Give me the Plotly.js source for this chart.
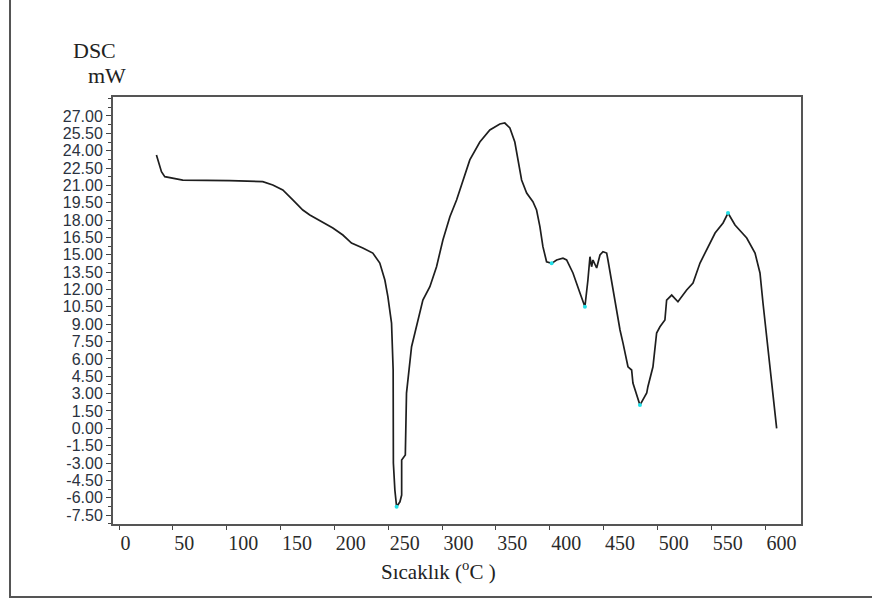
<!DOCTYPE html>
<html>
<head>
<meta charset="utf-8">
<script src="https://cdn.plot.ly/plotly-3.0.1.min.js"></script>
<style>html,body{margin:0;padding:0;background:#fff;}#chart{width:872px;height:602px;}</style>
</head>
<body>
<div id="chart"></div>
<script>
// DSC curve: temperature (°C) and heat flow (mW)
const temperature = [34.75, 36.2, 39.4, 42.5, 49.9, 59.2, 102.9, 133.5, 142.8, 152.1, 161.4, 170.7, 177.2, 188.1, 198.6, 207.9, 215.9, 226.4, 235.7, 242.2, 246.9, 249.7, 253.1, 254.6, 254.6, 254.8, 256.2, 257.8, 260.9, 262.5, 262.5, 265.9, 267.0, 268.2, 271.7, 274.8, 282.2, 288.7, 294.9, 300.8, 307.3, 313.5, 319.6, 325.8, 335.1, 344.4, 353.7, 358.3, 363.0, 367.6, 373.9, 378.6, 384.4, 387.8, 390.9, 393.7, 397.1, 401.8, 406.4, 412.3, 415.7, 421.6, 428.1, 432.7, 435.5, 437.4, 438.9, 440.2, 443.6, 446.7, 449.5, 452.9, 454.1, 458.8, 463.4, 465.3, 468.1, 471.5, 472.7, 476.1, 477.3, 483.8, 490.1, 491.2, 495.9, 499.3, 502.4, 507.0, 508.6, 513.3, 519.1, 527.2, 533.1, 539.6, 545.8, 553.6, 561.0, 565.6, 572.1, 583.0, 590.7, 595.3, 598.1, 601.6, 606.2, 610.8];
const dscMW = [23.63, 23.2, 22.18, 21.75, 21.61, 21.46, 21.41, 21.32, 21.03, 20.6, 19.74, 18.87, 18.44, 17.86, 17.32, 16.71, 16.02, 15.59, 15.15, 14.29, 12.82, 11.38, 9.1, 5.04, -0.15, -3.0, -5.34, -6.78, -6.35, -5.77, -2.74, -2.31, 3.05, 4.17, 7.05, 8.24, 11.09, 12.24, 13.97, 16.28, 18.29, 19.74, 21.47, 23.2, 24.75, 25.79, 26.31, 26.39, 25.96, 24.75, 21.47, 20.34, 19.59, 18.87, 17.43, 15.7, 14.4, 14.26, 14.55, 14.7, 14.55, 13.43, 11.7, 10.51, 12.82, 14.83, 13.97, 14.55, 13.86, 14.98, 15.27, 15.15, 14.55, 11.96, 9.36, 8.5, 7.37, 5.9, 5.32, 5.04, 3.92, 2.01, 3.05, 3.6, 5.32, 8.24, 8.78, 9.36, 11.09, 11.52, 10.94, 11.96, 12.56, 14.29, 15.41, 16.88, 17.75, 18.61, 17.58, 16.45, 15.15, 13.43, 10.83, 7.92, 4.17, 0.0];

// marked peak points
const peakX = [257.8, 401.8, 432.7, 483.8, 565.6];
const peakY = [-6.78, 14.26, 10.51, 2.01, 18.61];

// tick labels
const xTickVals = [0, 50, 100, 150, 200, 250, 300, 350, 400, 450, 500, 550, 600];
const xTickText = ["0", "50", "100", "150", "200", "250", "300", "350", "400", "450", "500", "550", "600"];
const yTickVals = [27, 25.5, 24, 22.5, 21, 19.5, 18, 16.5, 15, 13.5, 12, 10.5, 9, 7.5, 6, 4.5, 3, 1.5, 0, -1.5, -3, -4.5, -6, -7.5];
const yTickText = ["27.00", "25.50", "24.00", "22.50", "21.00", "19.50", "18.00", "16.50", "15.00", "13.50", "12.00", "10.50", "9.00", "7.50", "6.00", "4.50", "3.00", "1.50", "0.00", "-1.50", "-3.00", "-4.50", "-6.00", "-7.50"];

const traces = [
  {
    x: temperature, y: dscMW, type: 'scatter', mode: 'lines',
    line: {color: '#1e1e1e', width: 1.7}, hoverinfo: 'x+y', showlegend: false
  },
  {
    x: peakX, y: peakY, type: 'scatter', mode: 'markers',
    marker: {color: '#22e0e8', size: 4}, showlegend: false
  }
];

const serif = '"Liberation Serif", "Times New Roman", serif';
const sans = '"Liberation Sans", Arial, sans-serif';

const layout = {
  width: 872, height: 602,
  margin: {l: 113, r: 71, t: 97, b: 78},
  paper_bgcolor: '#ffffff', plot_bgcolor: '#ffffff',
  showlegend: false,
  xaxis: {
    range: [-5.6, 633.4],
    tickmode: 'array', tickvals: xTickVals, ticktext: xTickText,
    ticks: 'outside', ticklen: 4, tickwidth: 1, tickcolor: '#444',
    ticklabelposition: 'outside right',
    tickfont: {family: serif, size: 20, color: '#2a2a2a'},
    showgrid: false, zeroline: false,
    showline: true, mirror: true, linecolor: '#555', linewidth: 2
  },
  yaxis: {
    range: [-8.27, 28.64],
    tickmode: 'array', tickvals: yTickVals, ticktext: yTickText,
    ticks: 'outside', ticklen: 5, tickwidth: 1, tickcolor: '#444',
    minor: {tickmode: 'linear', tick0: -7.5, dtick: 0.75, ticklen: 3, tickcolor: '#444', showgrid: false},
    tickfont: {family: sans, size: 16, color: '#2b3240'},
    showgrid: false, zeroline: false,
    showline: true, mirror: true, linecolor: '#555', linewidth: 2
  },
  annotations: [
    {text: 'DSC', xref: 'paper', yref: 'paper', x: -0.0276, y: 1.110, xanchor: 'center', yanchor: 'middle', showarrow: false,
     font: {family: serif, size: 22, color: '#222'}},
    {text: 'mW', xref: 'paper', yref: 'paper', x: -0.0087, y: 1.0515, xanchor: 'center', yanchor: 'middle', showarrow: false,
     font: {family: serif, size: 22, color: '#222'}},
    {text: 'Sıcaklık (<sup>o</sup>C )', xref: 'paper', yref: 'paper', x: 0.4738, y: -0.108, xanchor: 'center', yanchor: 'middle', showarrow: false,
     font: {family: serif, size: 21, color: '#222'}}
  ],
  shapes: [
    {type: 'rect', xref: 'paper', yref: 'paper', x0: -0.1497, x1: 1.105, y0: -0.171, y1: 1.2295,
     line: {color: '#555', width: 2}, fillcolor: 'rgba(0,0,0,0)'}
  ]
};

Plotly.newPlot('chart', traces, layout, {displayModeBar: false, staticPlot: true});
</script>
</body>
</html>
